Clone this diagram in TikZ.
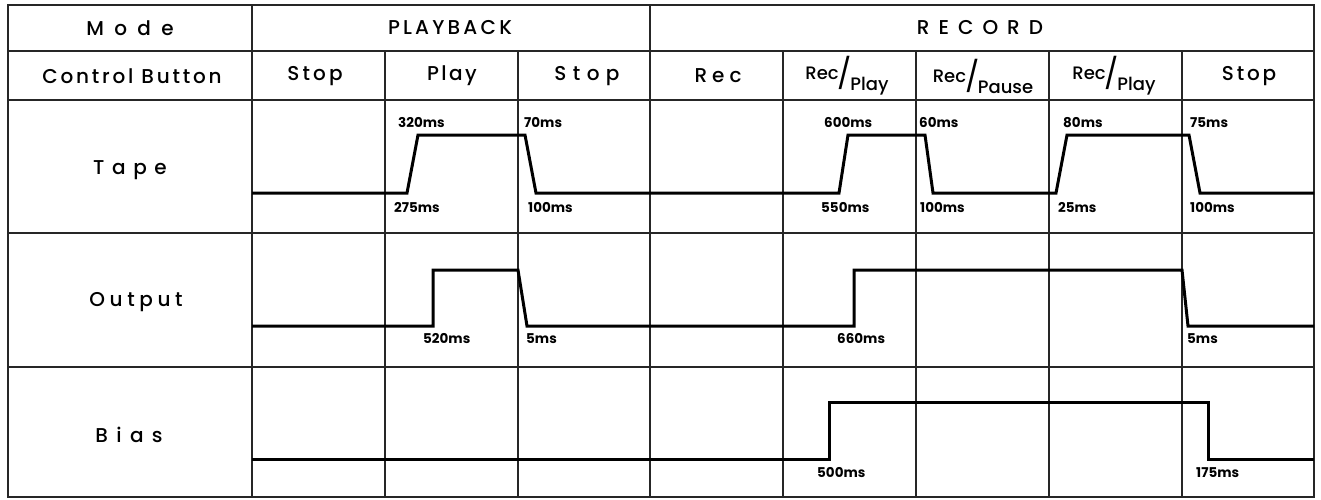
\documentclass[tikz,border=0pt]{standalone}
\usepackage{fontspec}
\setmainfont{Poppins}
\newfontfamily\hdrfont{Poppins}[UprightFont=* Medium]
\newcommand{\ls}[1]{\addfontfeature{LetterSpace=#1}}
\newcommand{\recslash}[1]{\raisebox{5pt}{\fontsize{18}{18}\selectfont Rec}\hspace{-1pt}{\fontsize{30}{30}\selectfont\normalfont/}\hspace{-1.5pt}\raisebox{-6pt}{\fontsize{18}{18}\selectfont #1}}
\tikzset{
  gridline/.style={line width=1.2pt, black!85},
  border/.style={line width=1.5pt, black!85},
  wave/.style={line width=3pt, line join=miter},
  hdr/.style={inner sep=0pt, font=\hdrfont\fontsize{20}{20}\selectfont},
  lbl/.style={inner sep=0pt, anchor=west, font=\bfseries\fontsize{13.5}{13.5}\selectfont},
}
\begin{document}
\begin{tikzpicture}[x=1pt,y=-1pt]
\useasboundingbox (0,0) rectangle (1321,499);
% grid
\draw[border] (8,5) rectangle (1314,497);
\foreach \y in {51,100,233,367} \draw[gridline] (8,\y) -- (1314,\y);
\foreach \x in {252,650} \draw[gridline] (\x,5) -- (\x,497);
\foreach \x in {385,518,783,916,1049,1182} \draw[gridline] (\x,51) -- (\x,497);
% header texts
\node[hdr] (mode) at (130,28) {\ls{52}Mode};
\node[hdr] (playback) at (450,28) {\ls{16}PLAYBACK};
\node[hdr] (record) at (980,28) {\ls{45}RECORD};
\node[hdr] (ctrl) at (132,76) {\ls{14}Control Button};
\node[hdr] (c1) at (315,76) {\ls{16}Stop};
\node[hdr] (c2) at (452,76) {\ls{12}Play};
\node[hdr] (c3) at (587,76) {\ls{32}Stop};
\node[hdr] (c4) at (718,76) {\ls{25}Rec};
\node[hdr] (c5) at (847,76) {\recslash{Play}};
\node[hdr] (c6) at (983,76) {\recslash{Pause}};
\node[hdr] (c7) at (1114,76) {\recslash{Play}};
\node[hdr] (c8) at (1249,76) {\ls{14}Stop};
% row labels
\node[hdr] (tape) at (130,170) {\ls{38}Tape};
\node[hdr] (output) at (136,302) {\ls{23}Output};
\node[hdr] (bias) at (129,435) {\ls{42}Bias};
% waveforms
\draw[wave] (252,193) -- (407,193) -- (418,135) -- (525,135) -- (536,193) -- (839,193) -- (848,135) -- (925,135) -- (933,193) -- (1056,193) -- (1067,135) -- (1189,135) -- (1200,193) -- (1314,193);
\draw[wave] (252,326) -- (433,326) -- (433,270) -- (518,270) -- (527,326) -- (854,326) -- (854,270) -- (1182,270) -- (1188,326) -- (1314,326);
\draw[wave] (252,459) -- (829,459) -- (829,402) -- (1208,402) -- (1208,459) -- (1314,459);
% timing labels
\node[lbl] (t1) at (398,123) {320ms};
\node[lbl] (t2) at (524,123) {70ms};
\node[lbl] (t3) at (824,123) {600ms};
\node[lbl] (t4) at (919,123) {60ms};
\node[lbl] (t5) at (1063,123) {80ms};
\node[lbl] (t6) at (1190,123) {75ms};
\node[lbl] (b1) at (394,208) {275ms};
\node[lbl] (b2) at (528,208) {100ms};
\node[lbl] (b3) at (821,208) {550ms};
\node[lbl] (b4) at (920,208) {100ms};
\node[lbl] (b5) at (1058,208) {25ms};
\node[lbl] (b6) at (1190,208) {100ms};
\node[lbl] (o1) at (423,339) {520ms};
\node[lbl] (o2) at (526,339) {5ms};
\node[lbl] (o3) at (837,339) {660ms};
\node[lbl] (o4) at (1187,339) {5ms};
\node[lbl] (s1) at (817,473) {500ms};
\node[lbl] (s2) at (1196,473) {175ms};
\end{tikzpicture}
\end{document}
